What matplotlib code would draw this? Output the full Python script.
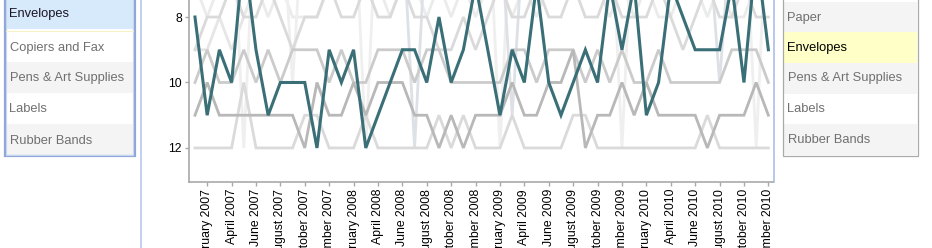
"""
排名变化图（bump chart）：Envelopes 高亮，其它类目灰色。
"""

import matplotlib.pyplot as plt
from matplotlib.patches import Rectangle

plt.rcParams["font.family"] = ["Liberation Sans", "DejaVu Sans"]

# 月份索引 0..47 = 2007-01 .. 2010-12，刻度只标偶数月
month_index = list(range(48))
tick_index = list(range(1, 48, 2))
tick_labels = [
    "February 2007", "April 2007", "June 2007", "August 2007", "October 2007", "December 2007",
    "February 2008", "April 2008", "June 2008", "August 2008", "October 2008", "December 2008",
    "February 2009", "April 2009", "June 2009", "August 2009", "October 2009", "December 2009",
    "February 2010", "April 2010", "June 2010", "August 2010", "October 2010", "December 2010",
]

envelopes = [8, 11, 9, 10, 6, 9, 11, 10, 10, 10, 12, 9, 10, 9, 12, 11, 10, 9, 9, 10, 8, 10, 9, 7,
             9, 11, 9, 10, 7, 10, 11, 10, 9, 10, 7, 9, 7, 11, 10, 7, 8, 9, 9, 9, 7, 10, 6, 9]
labels = [11, 10, 11, 11, 11, 11, 11, 11, 11, 12, 10, 11, 11, 10, 11, 10, 10, 10, 11, 11, 12, 11, 12, 11,
          11, 11, 10, 11, 11, 10, 10, 9, 12, 11, 11, 10, 11, 10, 11, 11, 11, 11, 12, 11, 11, 11, 10, 11]
rubber_bands = [12, 12, 12, 12, 10, 12, 12, 12, 12, 11, 11, 12, 12, 12, 11, 12, 12, 12, 12, 12, 11, 12, 11, 12,
                12, 12, 11, 12, 12, 12, 12, 11, 11, 12, 12, 12, 12, 12, 12, 12, 12, 12, 11, 12, 12, 12, 12, 12]
pens_art = [10, 9, 10, 10, 9, 10, 9, 10, 9, 9, 9, 10, 9, 10, 10, 9, 9, 9, 10, 9, 9, 10, 10, 10,
            10, 10, 9, 9, 10, 9, 9, 9, 10, 9, 10, 9, 10, 10, 9, 10, 10, 10, 10, 10, 9, 9, 9, 10]
paper = [9, 8, 8, 7, 8, 8, 7, 8, 9, 8, 8, 7, 8, 8, 7, 8, 8, 7, 8, 8, 9, 9, 8, 9,
         8, 7, 8, 8, 7, 8, 8, 7, 8, 8, 7, 8, 8, 8, 7, 8, 9, 8, 7, 8, 8, 7, 8, 8]
copiers_fax = [9, 9, 8, 9, 8, 7, 7, 6, 6, 7, 7, 6, 6, 5, 6, 5, 5, 5, 6, 6, 5, 5, 5, 5,
               5, 6, 5, 5, 5, 6, 6, 5, 5, 5, 6, 5, 5, 5, 6, 6, 6, 5, 5, 6, 6, 5, 6, 6]
scissors = [7, 8, 7, 7, 8, 7, 8, 7, 8, 8, 8, 7, 7, 7, 7, 7, 8, 7, 7, 8, 7, 8, 7, 8,
            7, 7, 8, 7, 8, 7, 7, 7, 7, 7, 8, 7, 8, 7, 8, 8, 7, 7, 8, 7, 8, 8, 7, 7]
office_machines = [4, 4, 4, 4, 12, 4, 4, 4, 10, 4, 4, 4, 4, 4, 12, 4, 4, 4, 4, 4, 4, 4, 4, 4,
                   4, 12, 4, 4, 4, 4, 4, 4, 4, 4, 4, 12, 4, 4, 4, 4, 4, 4, 4, 4, 4, 4, 12, 4]
tables = [5, 5, 5, 5, 5, 5, 5, 5, 5, 5, 5, 5, 5, 5, 5, 5, 5, 5, 12, 5, 5, 5, 5, 5,
          5, 5, 11, 5, 5, 5, 5, 5, 5, 5, 5, 5, 5, 5, 5, 5, 5, 5, 5, 10, 5, 5, 5, 5]

grey_series = [
    (copiers_fax, "#e6e6e6"),
    (scissors, "#ebebeb"),
    (office_machines, "#efefef"),
    (tables, "#dde1e6"),
    (paper, "#dadada"),
    (rubber_bands, "#dadada"),
    (pens_art, "#cbcbcb"),
    (labels, "#b8b8b8"),
]

left_items = ["Envelopes", "Copiers and Fax", "Pens & Art Supplies", "Labels", "Rubber Bands"]
right_items = ["Paper", "Envelopes", "Pens & Art Supplies", "Labels", "Rubber Bands"]

W, H = 932, 248
fig = plt.figure(figsize=(W / 100, H / 100), dpi=100)
fig.patch.set_facecolor("white")

# 像素坐标的背景层：左右两个列表
bg = fig.add_axes([0, 0, 1, 1], zorder=0)
bg.set_xlim(0, W)
bg.set_ylim(H, 0)
bg.axis("off")

left_bg = ["#d6eafb", "white", "#f4f4f4", "white", "#f4f4f4"]
row_top = [-2, 31, 62, 93, 124]
for top, color, text in zip(row_top, left_bg, left_items):
    bg.add_patch(Rectangle((6, top), 127, 31, facecolor=color, edgecolor="none"))
    txt_color = "#1c1426" if text == "Envelopes" else "#707070"
    bg.text(9.5, top + 16.5, text, fontsize=9.3, color=txt_color, va="center", ha="left")
bg.plot([6, 133], [30.5, 30.5], color="#f6f2c8", lw=0.8)
bg.add_patch(Rectangle((4.5, -5), 130, 161, facecolor="none", edgecolor="#8fa6d8", lw=1.6))
bg.add_patch(Rectangle((6, -5), 127, 159.5, facecolor="none", edgecolor="#c9d6f0", lw=0.8))
bg.plot([141, 141], [0, H], color="#b6c8ef", lw=1.2)

right_bg = ["#f4f4f4", "#ffffc8", "#f4f4f4", "white", "#f4f4f4"]
right_top = [1.5, 31.5, 62.5, 93.5, 124]
for top, color, text in zip(right_top, right_bg, right_items):
    bg.add_patch(Rectangle((783, top), 134, 31, facecolor=color, edgecolor="none"))
    txt_color = "black" if text == "Envelopes" else "#707070"
    bg.text(787.5, top + 16, text, fontsize=9.3, color=txt_color, va="center", ha="left")
bg.add_patch(Rectangle((782.5, -5), 135.5, 160.5, facecolor="none", edgecolor="#aaaaaa", lw=0.9))
bg.plot([774, 774], [0, 182], color="#aabfe9", lw=1.2)

# 主图
ax = fig.add_axes([189 / W, 1 - 182 / H, (773 - 189) / W, 182 / H], zorder=1)
ax.set_facecolor("none")

for ranks, color in grey_series:
    ax.plot(month_index, ranks, color=color, lw=2.0, solid_joinstyle="miter")
ax.plot(month_index, envelopes, color="#3a6f78", lw=2.2, solid_joinstyle="miter")

ax.set_xlim(-0.49, 47.38)
ax.set_ylim(13.04, 7.48)
ax.set_yticks([8, 10, 12])
ax.set_xticks(tick_index)
ax.set_xticklabels(tick_labels, rotation=90, va="top", ha="center")

for side in ["top", "right"]:
    ax.spines[side].set_visible(False)
for side in ["left", "bottom"]:
    ax.spines[side].set_color("#a9a9a9")
    ax.spines[side].set_linewidth(1.2)
ax.tick_params(axis="both", colors="#a9a9a9", labelcolor="black", labelsize=8.8,
               length=3, width=1, pad=2)

fig.savefig("out.png", dpi=100)
